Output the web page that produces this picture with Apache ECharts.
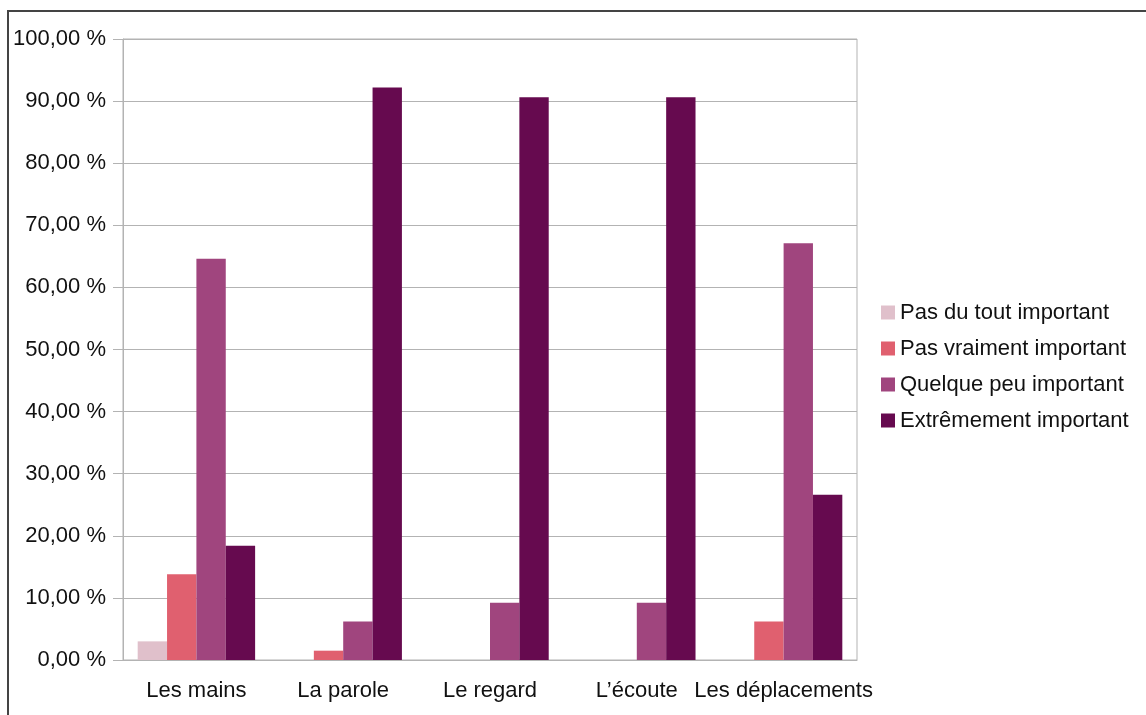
<!DOCTYPE html>
<html>
<head>
<meta charset="utf-8">
<script src="https://cdn.jsdelivr.net/npm/echarts@6/dist/echarts.min.js"></script>
<style>
html,body{margin:0;padding:0;background:#fff;}
#chart{width:1146px;height:715px;}
#frame{position:absolute;left:7px;top:10px;width:1139px;height:705px;border-top:2px solid #444;border-left:2px solid #444;box-sizing:border-box;pointer-events:none;}
</style>
</head>
<body>
<div id="chart"></div>
<div id="frame"></div>
<script>
const categories = ['Les mains', 'La parole', 'Le regard', 'L\u2019écoute', 'Les déplacements'];
const seriesNames = ['Pas du tout important', 'Pas vraiment important', 'Quelque peu important', 'Extrêmement important'];
const pasDuTout = [3.0, 0, 0, 0, 0];
const pasVraiment = [13.8, 1.5, 0, 0, 6.2];
const quelquePeu = [64.6, 6.2, 9.2, 9.2, 67.1];
const extremement = [18.4, 92.2, 90.6, 90.6, 26.6];
const colors = ['#e0c0cb', '#e0606f', '#a0457e', '#660a4f'];

const values = [pasDuTout, pasVraiment, quelquePeu, extremement];
const font = 'Liberation Sans, Arial, sans-serif';

const chart = echarts.init(document.getElementById('chart'));
chart.setOption({
  animation: false,
  color: colors,
  grid: {left: 123, right: 289, top: 39, bottom: 55, show: true, borderColor: '#b3b3b3', borderWidth: 1},
  legend: {
    orient: 'vertical',
    left: 876,
    top: 296,
    itemWidth: 14,
    itemHeight: 14,
    itemGap: 13,
    icon: 'rect',
    textStyle: {fontFamily: font, fontSize: 22, color: '#111', lineHeight: 23},
    data: seriesNames
  },
  xAxis: {
    type: 'category',
    data: categories,
    axisLine: {lineStyle: {color: '#b3b3b3'}},
    axisTick: {length: 11, lineStyle: {color: '#b3b3b3'}},
    axisLabel: {fontFamily: font, fontSize: 22, color: '#111', margin: 20, interval: 0}
  },
  yAxis: {
    type: 'value',
    min: 0, max: 100, interval: 10,
    axisLine: {show: true, lineStyle: {color: '#b3b3b3'}},
    axisTick: {show: true, length: 10, inside: false, lineStyle: {color: '#b3b3b3'}},
    splitLine: {lineStyle: {color: '#b3b3b3'}},
    axisLabel: {
      fontFamily: font, fontSize: 22, color: '#111', margin: 17,
      formatter: v => v.toFixed(2).replace('.', ',') + ' %'
    }
  },
  series: seriesNames.map((n, i) => ({
    name: n,
    type: 'bar',
    data: values[i],
    barGap: '0%',
    barCategoryGap: '20%',
    itemStyle: {color: colors[i]}
  }))
});
</script>
</body>
</html>
